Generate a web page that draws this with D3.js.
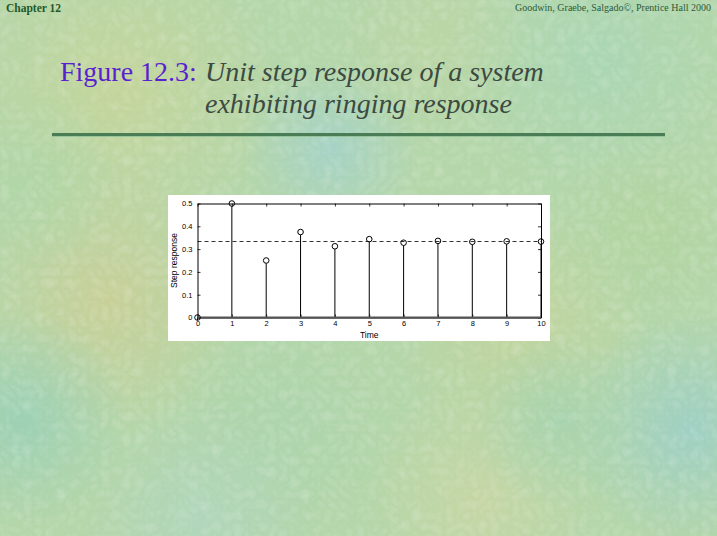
<!DOCTYPE html>
<html><head><meta charset="utf-8">
<script src="https://cdn.jsdelivr.net/npm/d3@7/dist/d3.min.js"></script>
<style>html,body{margin:0;padding:0;overflow:hidden;background:#b9d6ab}</style>
</head><body>
<script>
const timeSteps = [0,1,2,3,4,5,6,7,8,9,10];
const stepResponse = [0,0.5,0.25,0.375,0.3125,0.34375,0.328,0.336,0.332,0.334,0.333];
const finalValue = 0.3333;
const xTicks = [0,1,2,3,4,5,6,7,8,9,10];
const yTicks = [0,0.1,0.2,0.3,0.4,0.5];
const yTickLabels = ["0","0.1","0.2","0.3","0.4","0.5"];

const W = 717, H = 536;
const svg = d3.select("body").append("svg").attr("width", W).attr("height", H);
const defs = svg.append("defs");

// background texture
svg.append("rect").attr("width", W).attr("height", H).attr("fill", "#b4d6a9");
const blobs = [
  {x:120,y:90,r:160,c:"#c6d59a"},{x:600,y:60,r:150,c:"#a9d6b4"},{x:330,y:150,r:90,c:"#a4d2c8"},
  {x:110,y:300,r:140,c:"#cacf96"},{x:20,y:420,r:110,c:"#9ad0b6"},{x:280,y:430,r:130,c:"#acd4ac"},
  {x:520,y:330,r:130,c:"#c2d49c"},{x:690,y:430,r:120,c:"#9ccfc6"},{x:480,y:500,r:120,c:"#c8d6a4"},
  {x:200,y:520,r:120,c:"#b0d6bc"},{x:650,y:230,r:100,c:"#b2d4a0"},{x:430,y:40,r:100,c:"#bcd6a6"},
  {x:560,y:420,r:90,c:"#a6d3ae"},{x:30,y:180,r:90,c:"#b0d6a6"}
];
blobs.forEach((b,i)=>{
  const g = defs.append("radialGradient").attr("id","bg"+i);
  g.append("stop").attr("offset","0%").attr("stop-color",b.c).attr("stop-opacity",0.9);
  g.append("stop").attr("offset","100%").attr("stop-color",b.c).attr("stop-opacity",0);
  svg.append("circle").attr("cx",b.x).attr("cy",b.y).attr("r",b.r).attr("fill","url(#bg"+i+")");
});
const f = defs.append("filter").attr("id","tex").attr("x",0).attr("y",0).attr("width","100%").attr("height","100%");
f.append("feTurbulence").attr("type","turbulence").attr("baseFrequency","0.09").attr("numOctaves",2).attr("seed",3).attr("result","t");
f.append("feColorMatrix").attr("in","t").attr("type","matrix")
  .attr("values","0 0 0 0 1  0 0 0 0 1  0 0 0 0 1  0 0 0 0.45 -0.05");
svg.append("rect").attr("width",W).attr("height",H).attr("filter","url(#tex)").attr("opacity",0.6);

// header
svg.append("text").attr("x",6).attr("y",12).attr("font-family","Liberation Serif, serif")
  .attr("font-weight","bold").attr("font-size",11.5).attr("fill","#1e5a2c").text("Chapter 12");
svg.append("text").attr("x",711).attr("y",11).attr("text-anchor","end").attr("font-family","Liberation Serif, serif")
  .attr("font-size",10).attr("fill","#2d5a3a").text("Goodwin, Graebe, Salgado©, Prentice Hall 2000");

// title
const t1 = svg.append("text").attr("x",60).attr("y",81).attr("font-family","Liberation Serif, serif").attr("font-size",28);
t1.append("tspan").attr("fill","#5a1fd0").text("Figure 12.3: ");
t1.append("tspan").attr("x",205).attr("fill","#3c4a42").attr("font-style","italic").attr("font-size",28).text("Unit step response of a system");
svg.append("text").attr("x",205).attr("y",113).attr("font-family","Liberation Serif, serif").attr("font-size",28)
  .attr("font-style","italic").attr("fill","#3c4a42").text("exhibiting ringing response");

// rule
svg.append("rect").attr("x",52).attr("y",133).attr("width",613).attr("height",3).attr("fill","#4a7d55");
svg.append("rect").attr("x",52).attr("y",136).attr("width",613).attr("height",1).attr("fill","#8fbf95").attr("opacity",0.8);

// chart panel
svg.append("rect").attr("x",168).attr("y",195).attr("width",382).attr("height",146).attr("fill","#ffffff");

const x = d3.scaleLinear().domain([0,10]).range([197.5,541]);
const y = d3.scaleLinear().domain([0,0.5]).range([317.5,203.5]);
const g = svg.append("g").attr("font-family","Liberation Sans, Arial, sans-serif");

const axB = g.append("g").attr("transform",`translate(0,${y(0)})`)
  .call(d3.axisBottom(x).tickValues(xTicks).tickSizeInner(-3).tickSizeOuter(0).tickPadding(3).tickFormat(d3.format("d")));
const axT = g.append("g").attr("transform",`translate(0,${y(0.5)})`)
  .call(d3.axisTop(x).tickValues(xTicks).tickSizeInner(-3).tickSizeOuter(0).tickFormat(""));
const axL = g.append("g").attr("transform",`translate(${x(0)},0)`)
  .call(d3.axisLeft(y).tickValues(yTicks).tickSizeInner(-3).tickSizeOuter(0).tickPadding(5).tickFormat((d)=>yTickLabels[yTicks.indexOf(d)]));
const axR = g.append("g").attr("transform",`translate(${x(10)},0)`)
  .call(d3.axisRight(y).tickValues(yTicks).tickSizeInner(-3).tickSizeOuter(0).tickFormat(""));
[axB,axT,axL,axR].forEach(a=>{
  a.select(".domain").attr("stroke","#000").attr("stroke-width",1);
  a.selectAll(".tick line").attr("stroke","#000").attr("stroke-width",0.8);
  a.selectAll("text").attr("font-size",7.5).attr("fill","#000").attr("font-family","Liberation Sans, Arial, sans-serif");
});

// dashed final value
g.append("line").attr("x1",x(0)).attr("x2",x(10)).attr("y1",y(finalValue)).attr("y2",y(finalValue))
  .attr("stroke","#000").attr("stroke-width",0.8).attr("stroke-dasharray","4,3");

// stems
g.selectAll("line.stem").data(timeSteps).enter().append("line").attr("class","stem")
  .attr("x1",d=>x(d)).attr("x2",d=>x(d)).attr("y1",y(0)).attr("y2",(d,i)=>y(stepResponse[i])+2.8)
  .attr("stroke","#000").attr("stroke-width",1);
// baseline
g.append("line").attr("x1",x(0)).attr("x2",x(10)).attr("y1",y(0)).attr("y2",y(0))
  .attr("stroke","#555").attr("stroke-width",1.8);
// markers
g.selectAll("circle.mk").data(timeSteps).enter().append("circle").attr("class","mk")
  .attr("cx",d=>x(d)).attr("cy",(d,i)=>y(stepResponse[i])).attr("r",2.8)
  .attr("fill","none").attr("stroke","#000").attr("stroke-width",1);

// labels
g.append("text").attr("x",(x(0)+x(10))/2).attr("y",338).attr("text-anchor","middle")
  .attr("font-size",8.5).attr("fill","#000").text("Time");
g.append("text").attr("transform",`translate(177,${(y(0)+y(0.5))/2}) rotate(-90)`).attr("text-anchor","middle")
  .attr("font-size",8.5).attr("fill","#000").text("Step response");
</script>
</body></html>
